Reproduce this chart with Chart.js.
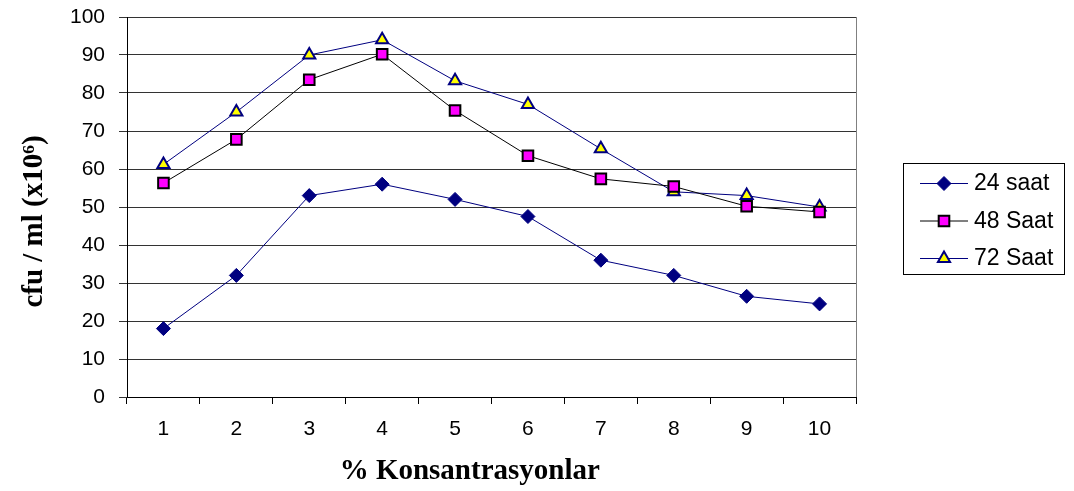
<!DOCTYPE html>
<html>
<head>
<meta charset="utf-8">
<script src="https://cdn.jsdelivr.net/npm/chart.js@4/dist/chart.umd.min.js"></script>
<style>
  body { margin: 0; background: #fff; }
  canvas { display: block; }
</style>
</head>
<body>
<canvas id="myChart" width="1074" height="491"></canvas>
<script>
// data
var categories = ['1', '2', '3', '4', '5', '6', '7', '8', '9', '10'];
var saat24 = [18, 32, 53, 56, 52, 47.5, 36, 32, 26.5, 24.5];
var saat48 = [56.3, 67.8, 83.5, 90.2, 75.4, 63.5, 57.4, 55.4, 50.2, 48.7];
var saat72 = [61.2, 75, 90, 94, 83.2, 77, 65.3, 54, 53, 50];
var seriesLabels = ['24 saat', '48 Saat', '72 Saat'];

var SANS = '"Liberation Sans", Arial, sans-serif';
var SERIF = '"Liberation Serif", "Times New Roman", serif';

// white page + right frame line of the plot area
var frame = {
  id: 'frame',
  beforeDraw: function (chart) {
    var c = chart.ctx;
    c.save();
    c.fillStyle = '#fff';
    c.fillRect(0, 0, chart.width, chart.height);
    c.restore();
  },
  afterDatasetsDraw: function (chart) {
    var a = chart.chartArea, c = chart.ctx;
    c.save();
    c.strokeStyle = '#808080';
    c.lineWidth = 1;
    c.beginPath();
    c.moveTo(Math.round(a.right) + 0.5, a.top);
    c.lineTo(Math.round(a.right) + 0.5, a.bottom);
    c.stroke();
    c.restore();
  }
};

// excel-like legend: line with marker, boxed
var boxLegend = {
  id: 'boxLegend',
  afterDraw: function (chart) {
    var c = chart.ctx;
    var x0 = 903, y0 = 163, w = 161, h = 111;
    c.save();
    c.strokeStyle = '#000';
    c.lineWidth = 1;
    c.strokeRect(x0 + 0.5, y0 + 0.5, w, h);
    chart.data.datasets.forEach(function (ds, i) {
      var y = 183 + i * 37.5;
      c.strokeStyle = ds.borderColor;
      c.lineWidth = 1;
      c.beginPath();
      c.moveTo(920, y + 0.5);
      c.lineTo(968, y + 0.5);
      c.stroke();
      c.fillStyle = ds.pointBackgroundColor;
      c.strokeStyle = ds.pointBorderColor;
      c.lineWidth = ds.pointBorderWidth;
      Chart.helpers.drawPoint(c, {
        pointStyle: ds.pointStyle,
        radius: ds.pointRadius,
        borderWidth: ds.pointBorderWidth,
        rotation: 0
      }, 944, y + 0.5);
      c.fillStyle = '#000';
      c.font = '23px ' + SANS;
      c.textBaseline = 'middle';
      c.textAlign = 'left';
      c.fillText(ds.label, 974, y + 1);
    });
    c.restore();
  }
};

var ctx = document.getElementById('myChart').getContext('2d');
var chart = new Chart(ctx, {
  type: 'line',
  data: {
    labels: categories,
    datasets: [{
      label: seriesLabels[0],
      data: saat24,
      borderColor: '#000080',
      borderWidth: 1,
      pointStyle: 'rectRot',
      pointRadius: 7,
      pointBackgroundColor: '#000080',
      pointBorderColor: '#000080',
      pointBorderWidth: 1
    }, {
      label: seriesLabels[1],
      data: saat48,
      borderColor: '#000000',
      borderWidth: 1,
      pointStyle: 'rect',
      pointRadius: 7.5,
      pointBackgroundColor: '#ff00ff',
      pointBorderColor: '#000000',
      pointBorderWidth: 2
    }, {
      label: seriesLabels[2],
      data: saat72,
      borderColor: '#000080',
      borderWidth: 1,
      pointStyle: 'triangle',
      pointRadius: 7,
      pointBackgroundColor: '#ffff00',
      pointBorderColor: '#000080',
      pointBorderWidth: 2
    }]
  },
  options: {
    responsive: false,
    animation: false,
    layout: { padding: { top: 17, right: 218, bottom: 0, left: 0 } },
    plugins: {
      legend: { display: false },
      tooltip: { enabled: false }
    },
    elements: { line: { tension: 0 } },
    scales: {
      x: {
        offset: true,
        afterFit: function (scale) { scale.height = 94; },
        grid: {
          offset: true,
          drawOnChartArea: false,
          tickLength: 7,
          color: '#000'
        },
        border: { color: '#000' },
        ticks: {
          color: '#000',
          font: { family: SANS, size: 21 },
          padding: 13,
          maxRotation: 0
        },
        title: {
          display: true,
          text: '% Konsantrasyonlar      ',
          color: '#000',
          font: { family: SERIF, size: 29, weight: 'bold' },
          padding: { top: 0, bottom: 2 }
        }
      },
      y: {
        min: 0,
        max: 100,
        afterFit: function (scale) {
          scale.width = 127;
          // keep the plot top where the layout padding puts it
          scale.paddingTop = 0;
          scale.paddingBottom = 0;
        },
        grid: {
          color: '#333',
          tickLength: 8
        },
        border: { color: '#000' },
        ticks: {
          stepSize: 10,
          color: '#000',
          font: { family: SANS, size: 21 },
          padding: 14
        },
        title: {
          display: true,
          text: 'cfu / ml (x10\u2076)    ',
          color: '#000',
          font: { family: SERIF, size: 29, weight: 'bold' },
          padding: { top: 17, bottom: 0 }
        }
      }
    }
  },
  plugins: [frame, boxLegend]
});
</script>
</body>
</html>
